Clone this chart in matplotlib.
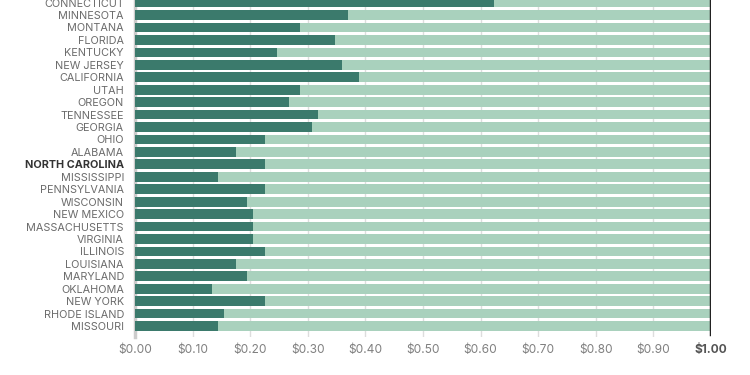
import matplotlib
matplotlib.use("Agg")
import matplotlib.pyplot as plt
import numpy as np

states = ["CONNECTICUT", "MINNESOTA", "MONTANA", "FLORIDA", "KENTUCKY", "NEW JERSEY",
          "CALIFORNIA", "UTAH", "OREGON", "TENNESSEE", "GEORGIA", "OHIO", "ALABAMA",
          "NORTH CAROLINA", "MISSISSIPPI", "PENNSYLVANIA", "WISCONSIN", "NEW MEXICO",
          "MASSACHUSETTS", "VIRGINIA", "ILLINOIS", "LOUISIANA", "MARYLAND", "OKLAHOMA",
          "NEW YORK", "RHODE ISLAND", "MISSOURI"]
revenue = [0.623, 0.369, 0.287, 0.348, 0.246, 0.359, 0.389, 0.287, 0.267, 0.317, 0.307,
           0.226, 0.175, 0.226, 0.144, 0.226, 0.195, 0.205, 0.205, 0.205, 0.226, 0.175,
           0.195, 0.134, 0.226, 0.154, 0.144]
lost = [1 - v for v in revenue]
xticks = [0.0, 0.1, 0.2, 0.3, 0.4, 0.5, 0.6, 0.7, 0.8, 0.9, 1.0]
xticklabels = ["$0.00", "$0.10", "$0.20", "$0.30", "$0.40", "$0.50", "$0.60",
               "$0.70", "$0.80", "$0.90", "$1.00"]
series_names = ["State Revenue Per Dollar of Tax Credit", "Lost Investment"]

FONT = ["Inter", "DejaVu Sans"]
plt.rcParams['font.family'] = FONT

dark = "#3b7a6c"
light = "#a9d1bd"

fig = plt.figure(figsize=(7.5, 3.75), dpi=100)
ax = fig.add_axes([0.18, 0.1013, 0.768, 0.8987])

y = np.arange(len(states))
ax.barh(y, revenue, height=0.78, color=dark, zorder=3, label=series_names[0])
ax.barh(y, lost, left=revenue, height=0.78, color=light, zorder=3, label=series_names[1])

ax.set_xlim(0, 1.0)
ax.set_ylim(26.88, -0.21)
for t in xticks[1:-1]:
    ax.axvline(t, color="#dddddd", lw=1, zorder=1)
ax.axvline(1.0, ymin=0.01, ymax=1, color="#222222", lw=2.5, zorder=4)

for s in ["top", "right", "bottom"]:
    ax.spines[s].set_visible(False)
ax.spines["left"].set_color("#cccccc")
ax.spines["left"].set_linewidth(2.5)
ax.spines["left"].set_bounds(26.9, -0.21)

ax.set_yticks(y)
ax.set_yticklabels(states, fontsize=7.8, color="#6b6b6b")
for lab in ax.get_yticklabels():
    if lab.get_text() == "NORTH CAROLINA":
        lab.set_fontweight("bold")
        lab.set_color("#333333")
ax.tick_params(axis="y", length=0, pad=8)

ax.set_xticks(xticks)
ax.set_xticklabels(xticklabels, fontsize=8.6, color="#808080")
ax.tick_params(axis="x", length=0, pad=5)
last = ax.get_xticklabels()[-1]
last.set_fontweight("bold")
last.set_color("#555555")

fig.legend(loc="upper center", bbox_to_anchor=(0.552, 0.013), ncol=2, frameon=False,
           fontsize=8, handlelength=0.9, handleheight=0.9, columnspacing=1.5,
           labelcolor="#6b6b6b")

fig.savefig("out.png", dpi=100)
